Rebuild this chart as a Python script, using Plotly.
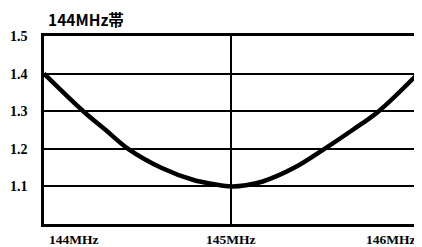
import plotly.graph_objects as go

freq_mhz = [144.00, 144.21, 144.33, 144.45, 144.63, 144.80, 144.91, 145.00,
            145.08, 145.17, 145.34, 145.50, 145.65, 145.79, 146.00]
swr = [1.400, 1.300, 1.250, 1.200, 1.149, 1.117, 1.106, 1.100,
       1.103, 1.113, 1.150, 1.200, 1.250, 1.300, 1.400]

y_ticks = [1.1, 1.2, 1.3, 1.4, 1.5]
y_labels = ["1.1", "1.2", "1.3", "1.4", "1.5"]
x_ticks = [144, 145, 146]
x_labels = ["144MHz", "145MHz", "146MHz"]
x_anchors = ["left", "center", "right"]
title = "144MHz帯"

font_serif = "Liberation Serif"

fig = go.Figure()
fig.add_trace(go.Scatter(
    x=freq_mhz, y=swr, mode="lines",
    line=dict(color="black", width=4.5, shape="spline", smoothing=1.0),
    showlegend=False, hoverinfo="skip",
))

for xv, lab, anc in zip(x_ticks, x_labels, x_anchors):
    fig.add_annotation(
        x=xv, y=0, xref="x", yref="paper", yanchor="middle", xanchor=anc,
        text=lab, showarrow=False, yshift=-15, xshift=(3 if anc == "left" else 0),
        font=dict(family=font_serif, size=13.5, color="black", weight="bold"),
    )

fig.add_annotation(
    x=0, y=1, xref="paper", yref="paper", xanchor="left", yanchor="middle",
    text=title, showarrow=False, xshift=2, yshift=17,
    font=dict(family="Noto Sans CJK JP", size=15.5, color="black", weight="bold"),
)

# page body has an 8px margin; figure is sized so the plot lands where the reference has it
fig.update_layout(
    width=414, height=239,
    margin=dict(l=36, r=1, t=28, b=23),
    paper_bgcolor="white", plot_bgcolor="white",
    xaxis=dict(
        range=[144, 146], tickvals=[145], showticklabels=False,
        showgrid=True, gridcolor="black", gridwidth=2,
        showline=True, linecolor="black", linewidth=2.5, mirror=True,
        zeroline=False, ticks="",
    ),
    yaxis=dict(
        range=[1.0, 1.5], tickvals=y_ticks, ticktext=y_labels,
        showgrid=True, gridcolor="black", gridwidth=2,
        showline=True, linecolor="black", linewidth=2.5, mirror=True,
        zeroline=False, ticks="", ticklabelstandoff=11,
        tickfont=dict(family=font_serif, size=14, color="black", weight="bold"),
    ),
)

fig.write_html("out.html")
